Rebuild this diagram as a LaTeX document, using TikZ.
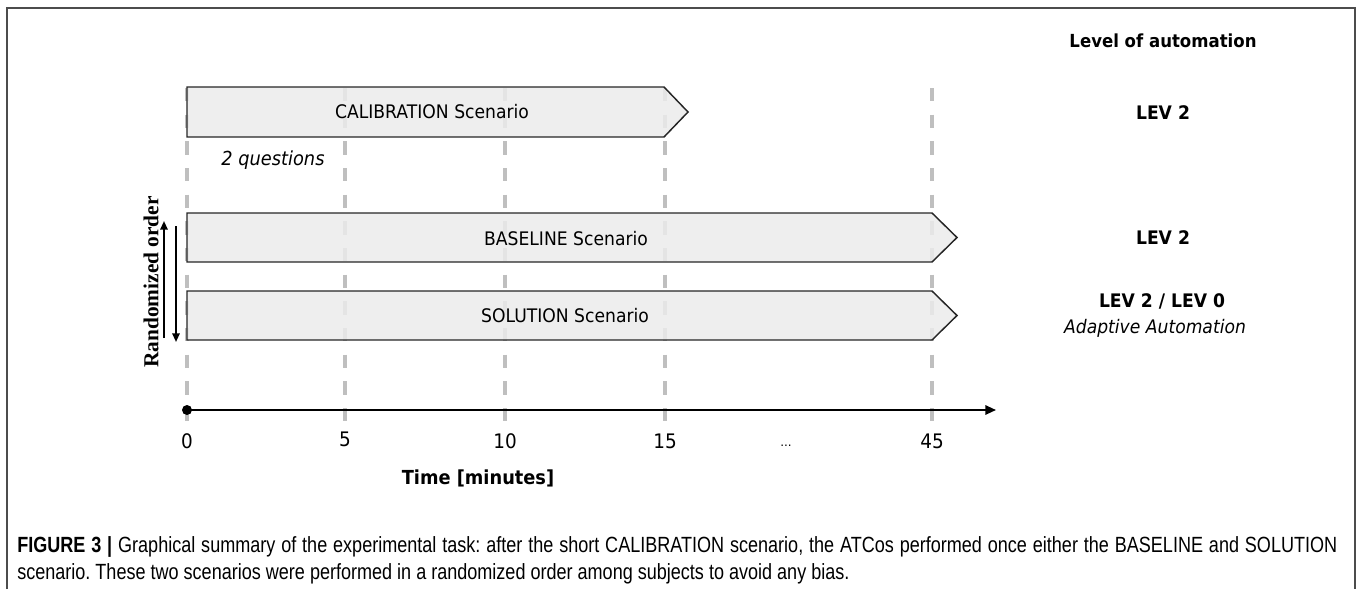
\documentclass[tikz,border=0pt]{standalone}
\usepackage{fontspec}
\setmainfont{DejaVu Sans}
\newfontfamily\tah[FakeStretch=0.92]{DejaVu Sans}
\newfontfamily\capfont[FakeStretch=0.82]{Liberation Sans}
\newfontfamily\serifb{Liberation Serif}
\usetikzlibrary{arrows.meta}
\tikzset{
  frameline/.style={draw=black!70, line width=1.4pt},
  gridline/.style={draw=black!25, line width=2.8pt, dash pattern=on 10pt off 10pt},
  scen/.style={draw=black!85, line width=1.1pt, fill=black!8, fill opacity=0.85},
  scentext/.style={font=\tah\fontsize{14}{16}\selectfont, inner sep=0pt},
  lev/.style={font=\tah\bfseries\fontsize{14}{16}\selectfont, inner sep=0pt},
  ticklab/.style={font=\tah\fontsize{15}{17}\selectfont, inner sep=0pt},
  captext/.style={font=\capfont\fontsize{16.5}{19}\selectfont, inner sep=0pt, anchor=base west},
  ordarrow/.style={line width=1.4pt, -{Triangle[length=6.5pt,width=5.5pt]}}
}
\begin{document}
\frenchspacing
\begin{tikzpicture}[x=0.75pt,y=-0.75pt]
\useasboundingbox (0,0) rectangle (1358,589);
% frame
\draw[frameline] (7,589) -- (7,8) -- (1355,8) -- (1355,589);
% time grid lines
\foreach \x in {187,345,505,665,932}
  \draw[gridline] (\x,88) -- (\x,422);
% scenario arrows
\draw[scen] (187,87) -- (664,87) -- (688,112) -- (664,137) -- (187,137) -- cycle;
\draw[scen] (187,213) -- (932,213) -- (957,237.5) -- (932,262) -- (187,262) -- cycle;
\draw[scen] (187,291) -- (932,291) -- (957,315.5) -- (932,340) -- (187,340) -- cycle;
\node[scentext] (cal) at (432,112) {CALIBRATION Scenario};
\node[scentext] (base) at (566,239) {BASELINE Scenario};
\node[scentext] (sol) at (565,316) {SOLUTION Scenario};
\node[scentext, font=\tah\itshape\fontsize{14.5}{16}\selectfont] (q) at (273,160) {2 questions};
% level of automation
\node[lev, font=\tah\bfseries\fontsize{13.5}{16}\selectfont] (loa) at (1163,41) {Level of automation};
\node[lev] (l1) at (1163,113) {LEV 2};
\node[lev] (l2) at (1163,238) {LEV 2};
\node[lev] (l3) at (1162,301) {LEV 2 / LEV 0};
\node[scentext, font=\tah\itshape\fontsize{14}{16}\selectfont] (aa) at (1155,328) {Adaptive Automation};
% randomized order
\node[font=\serifb\bfseries\fontsize{16}{18}\selectfont, rotate=90, inner sep=0pt] (ro) at (151,282) {Randomized order};
\coordinate (u1) at (164,338);
\coordinate (u2) at (164,221);
\coordinate (d1) at (176,226);
\coordinate (d2) at (176,342);
\draw[ordarrow] (u1) -- (u2);
\draw[ordarrow] (d1) -- (d2);
% time axis
\node[circle, fill=black, inner sep=0pt, minimum size=7.5pt] (o) at (187,410) {};
\coordinate (e) at (996,410);
\draw[line width=1.5pt, -{Triangle[length=8pt,width=7pt]}] (o.center) -- (e);
\node[ticklab] (t0) at (187,441) {0};
\node[ticklab] (t5) at (345,439) {5};
\node[ticklab] (t10) at (505,441) {10};
\node[ticklab] (t15) at (665,441) {15};
\node[ticklab, font=\fontsize{9}{10}\selectfont] (tdots) at (786,446) {...};
\node[ticklab] (t45) at (932,441) {45};
\node[lev, font=\tah\bfseries\fontsize{14.5}{16}\selectfont] (tm) at (478,478) {Time [minutes]};
% caption
\node[captext] (c1) at (17,552) {\makebox[990pt][s]{\textbf{FIGURE 3 |} Graphical summary of the experimental task: after the short CALIBRATION scenario, the ATCos performed once either the BASELINE and SOLUTION}};
\node[captext] (c2) at (17,579) {scenario. These two scenarios were performed in a randomized order among subjects to avoid any bias.};
\end{tikzpicture}
\end{document}
